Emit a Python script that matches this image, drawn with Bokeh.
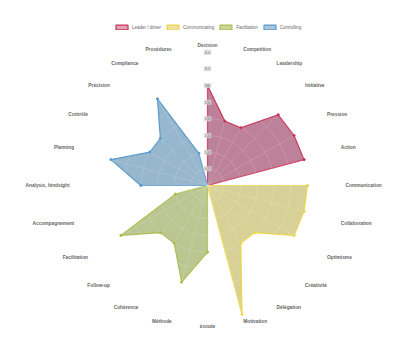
import math
from bokeh.plotting import figure
from bokeh.models import Legend, LegendItem, ColumnDataSource
from bokeh.core.properties import value
from bokeh.embed import file_html
from bokeh.resources import INLINE

categories = ["Decision", "Competition", "Leadership", "Initiative", "Pression", "Action",
              "Communication", "Collaboration", "Optimisme", "Créativité", "Délégation", "Motivation",
              "écoute", "Méthode", "Cohérence", "Follow-up", "Facilitation", "Accompagnement",
              "Analysis, hindsight", "Planning", "Contrôle", "Précision", "Compliance", "Procédures"]

series_names = ["Leader / driver", "Communicating", "Facilitation", "Controlling"]
leader = [3, 2, 2, 3, 3, 3, 0, 0, 0, 0, 0, 0, 0, 0, 0, 0, 0, 0, 0, 0, 0, 0, 0, 0]
communicating = [0, 0, 0, 0, 0, 0, 3, 3, 3, 2, 2, 4, 0, 0, 0, 0, 0, 0, 0, 0, 0, 0, 0, 0]
facilitation = [0, 0, 0, 0, 0, 0, 0, 0, 0, 0, 0, 0, 2, 3, 2, 2, 3, 1, 0, 0, 0, 0, 0, 0]
controlling = [0, 0, 0, 0, 0, 0, 0, 0, 0, 0, 0, 0, 0, 0, 0, 0, 0, 0, 2, 3, 2, 2, 3, 1]
tick_values = [0.5, 1.0, 1.5, 2.0, 2.5, 3.0, 3.5, 4.0]
tick_labels = ["0.5", "1.0", "1.5", "2.0", "2.5", "3.0", "3.5", "4.0"]

line_colors = ["#cc3358", "#ecd64c", "#a9c04c", "#5b9bcf"]
fill_colors = ["#bd8299", "#d8d197", "#bcc692", "#96b7cd"]
legend_fills = ["#dca3b5", "#ebe1a5", "#cdd6a3", "#adc6db"]

W, H = 400, 358
cx, cy = 207, 185
scale = 100.0 / 3.0  # px per unit
rmax = 4.0
label_r = 138 / scale
FONT = value("Liberation Sans")

p = figure(width=W, height=H, output_backend="svg", toolbar_location=None,
           x_range=(-cx / scale, (W - cx) / scale),
           y_range=(-(H - cy) / scale, cy / scale), min_border=0)
p.axis.visible = False
p.grid.visible = False
p.outline_line_color = None
p.background_fill_color = "white"

n = len(categories)
angles = [2 * math.pi * i / n for i in range(n)]

all_series = [leader, communicating, facilitation, controlling]
for vals, lc, fc in zip(all_series, line_colors, fill_colors):
    xs = [v * math.sin(a) for v, a in zip(vals, angles)]
    ys = [v * math.cos(a) for v, a in zip(vals, angles)]
    p.patch(xs, ys, fill_color=fc, fill_alpha=1.0, line_color=lc, line_width=1.2)

# grid on top (subtle, only visible over fills)
grid_col = "#ffffff"
grid_alpha = 0.14
p.circle(x=[0] * len(tick_values), y=[0] * len(tick_values), radius=tick_values,
         fill_alpha=0, line_color=grid_col, line_alpha=grid_alpha, line_width=1)
p.segment(x0=[0] * n, y0=[0] * n,
          x1=[rmax * math.sin(a) for a in angles], y1=[rmax * math.cos(a) for a in angles],
          line_color=grid_col, line_alpha=grid_alpha, line_width=1)

for vals, lc, fc in zip(all_series, line_colors, fill_colors):
    xs = [v * math.sin(a) for v, a in zip(vals, angles) if v > 0]
    ys = [v * math.cos(a) for v, a in zip(vals, angles) if v > 0]
    p.scatter(xs, ys, size=2.2, fill_color=lc, line_color=lc)

# tick labels
p.text(x=[0] * len(tick_values), y=tick_values, text=tick_labels,
       text_align="center", text_baseline="middle", text_font_size="4px",
       text_color="#777777", text_font=FONT,
       background_fill_color="#d8d8d8", background_fill_alpha=0.8, padding=1)

# point labels
lx, ly, aligns, baselines = [], [], [], []
for a in angles:
    deg = round(math.degrees(a)) % 360
    lx.append(label_r * math.sin(a))
    ly.append(label_r * math.cos(a))
    if deg in (0, 180):
        aligns.append("center")
    elif deg < 180:
        aligns.append("left")
    else:
        aligns.append("right")
    if deg in (90, 270):
        baselines.append("middle")
    elif deg < 90 or deg > 270:
        baselines.append("bottom")
    else:
        baselines.append("top")
src = ColumnDataSource(dict(x=lx, y=ly, t=categories, al=aligns, bl=baselines))
p.text(x="x", y="y", text="t", text_align="al", text_baseline="bl", source=src,
       text_font_size="4.8px", text_font_style="bold", text_color="#666666",
       text_font=FONT)

# legend
items = []
for name, lc, lf in zip(series_names, line_colors, legend_fills):
    r = p.patch([0, 0, 0], [0, 0, 0], fill_color=lf, line_color=lc, line_width=1.2)
    items.append(LegendItem(label=name, renderers=[r]))
legend = Legend(items=items, orientation="horizontal", location=(114, H - 30),
                glyph_width=15, glyph_height=6, label_height=6, label_width=10,
                label_standoff=3, spacing=4, padding=0, margin=0,
                label_text_font_size="4.5px", label_text_color="#666666",
                label_text_font="Liberation Sans",
                border_line_alpha=0, background_fill_alpha=0)
p.add_layout(legend)

open("out.html", "w").write(file_html(p, INLINE))
